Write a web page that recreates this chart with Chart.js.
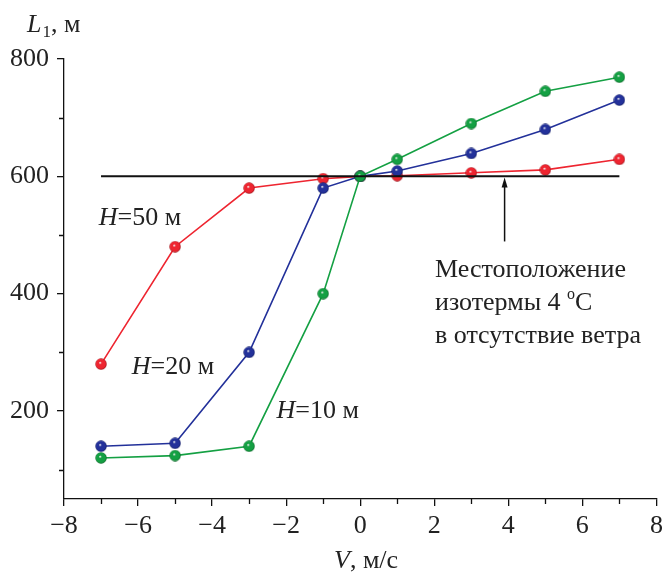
<!DOCTYPE html>
<html lang="ru">
<head>
<meta charset="UTF-8" />
<title>L1 от V</title>
<style>
  html, body { margin: 0; padding: 0; background: #fff; }
  #wrap { width: 664px; height: 573px; }
</style>
</head>
<body>
<div id="wrap"><canvas id="chart" width="664" height="573"></canvas></div>
<script src="https://cdn.jsdelivr.net/npm/chart.js"></script>
<script>
// данные
const windSpeed = [-7, -5, -3, -1, 0, 1, 3, 5, 7];
const h50 = [280, 480, 580, 596, 600, 601, 606, 611, 629];
const h20 = [140, 145, 300, 580, 600, 609, 639, 680, 730];
const h10 = [120, 124, 140, 400, 600, 629, 690, 745, 769];
const isothermX = [-7, 7];
const isothermY = [600, 600];
const xTicks = [-8, -6, -4, -2, 0, 2, 4, 6, 8];
const yTicks = [200, 400, 600, 800];
const xMinor = [-7, -5, -3, -1, 1, 3, 5, 7];
const yMinor = [100, 300, 500, 700];

const SERIF = '"Liberation Serif", "DejaVu Serif", serif';
const FS = 26;

// шарики-маркеры
function ball(color, dark) {
  const c = document.createElement('canvas');
  const s = 12;
  c.width = s; c.height = s;
  const g = c.getContext('2d');
  const grad = g.createRadialGradient(s * 0.42, s * 0.38, 0.3, s / 2, s / 2, s / 2);
  grad.addColorStop(0, '#f4f4f4');
  grad.addColorStop(0.22, color);
  grad.addColorStop(0.75, color);
  grad.addColorStop(1, dark);
  g.fillStyle = grad;
  g.beginPath();
  g.arc(s / 2, s / 2, s / 2 - 0.3, 0, Math.PI * 2);
  g.fill();
  return c;
}

const toPts = (xs, ys) => xs.map((x, i) => ({ x, y: ys[i] }));

const decor = {
  id: 'decor',
  afterDraw(chart) {
    const { ctx, scales: { x, y } } = chart;
    ctx.save();
    ctx.strokeStyle = '#111';
    ctx.lineWidth = 1.3;
    // малые деления
    ctx.beginPath();
    xMinor.forEach(v => {
      const px = Math.round(x.getPixelForValue(v)) + 0.5;
      ctx.moveTo(px, y.bottom); ctx.lineTo(px, y.bottom + 5);
    });
    yMinor.forEach(v => {
      const py = Math.round(y.getPixelForValue(v)) + 0.5;
      ctx.moveTo(x.left, py); ctx.lineTo(x.left - 5, py);
    });
    ctx.stroke();

    // стрелка
    const ax = x.getPixelForValue(3.9);
    const ay0 = y.getPixelForValue(489);
    const ay1 = y.getPixelForValue(598);
    ctx.lineWidth = 1.5;
    ctx.beginPath();
    ctx.moveTo(ax, ay0); ctx.lineTo(ax, ay1 + 6);
    ctx.stroke();
    ctx.fillStyle = '#111';
    ctx.beginPath();
    ctx.moveTo(ax, ay1); ctx.lineTo(ax - 3, ay1 + 10); ctx.lineTo(ax + 3, ay1 + 10);
    ctx.closePath(); ctx.fill();

    ctx.fillStyle = '#222';
    ctx.textBaseline = 'middle';
    ctx.textAlign = 'left';

    function hLabel(vx, vy, rest) {
      let px = x.getPixelForValue(vx);
      const py = y.getPixelForValue(vy);
      ctx.font = 'italic ' + FS + 'px ' + SERIF;
      ctx.fillText('H', px, py);
      px += ctx.measureText('H').width;
      ctx.font = FS + 'px ' + SERIF;
      ctx.fillText(rest, px, py);
    }
    hLabel(-7.06, 529, '=50 м');
    hLabel(-6.17, 275, '=20 м');
    hLabel(-2.26, 200, '=10 м');

    ctx.font = FS + 'px ' + SERIF;
    const tx = x.getPixelForValue(2.02);
    ctx.fillText('Местоположение', tx, y.getPixelForValue(440));
    const l2y = y.getPixelForValue(384);
    ctx.fillText('изотермы 4 ', tx, l2y);
    let w = ctx.measureText('изотермы 4 ').width;
    ctx.font = '16px ' + SERIF;
    ctx.fillText('o', tx + w, l2y - 8);
    w += ctx.measureText('o').width;
    ctx.font = FS + 'px ' + SERIF;
    ctx.fillText('C', tx + w, l2y);
    ctx.fillText('в отсутствие ветра', tx, y.getPixelForValue(328));

    // подписи осей
    ctx.textBaseline = 'alphabetic';
    ctx.font = 'italic ' + FS + 'px ' + SERIF;
    ctx.fillText('L', 27, 32);
    let lx = 27 + ctx.measureText('L').width + 1;
    ctx.font = '17px ' + SERIF;
    ctx.fillText('1', lx, 37);
    lx += ctx.measureText('1').width;
    ctx.font = FS + 'px ' + SERIF;
    ctx.fillText(', м', lx, 32);

    ctx.font = 'italic ' + FS + 'px ' + SERIF;
    ctx.fillText('V', 334, 568);
    const vx = 334 + ctx.measureText('V').width;
    ctx.font = FS + 'px ' + SERIF;
    ctx.fillText(', м/с', vx, 568);
    ctx.restore();
  }
};

const series = (data, color, dark) => ({
  data: toPts(windSpeed, data),
  borderColor: color,
  borderWidth: 1.6,
  pointStyle: ball(color, dark),
  pointRadius: 6,
  pointHoverRadius: 6,
  tension: 0
});

new Chart(document.getElementById('chart'), {
  type: 'line',
  data: {
    datasets: [
      {
        data: toPts(isothermX, isothermY),
        borderColor: '#111',
        borderWidth: 2,
        pointRadius: 0
      },
      series(h10, '#14a043', '#0a5a22'),
      series(h20, '#23319a', '#101a5a'),
      series(h50, '#ee2530', '#8a0d12')
    ]
  },
  plugins: [decor],
  options: {
    responsive: false,
    animation: false,
    events: [],
    layout: { padding: { top: 59, right: 0, left: 0, bottom: 0 } },
    plugins: { legend: { display: false }, tooltip: { enabled: false } },
    scales: {
      x: {
        type: 'linear',
        min: -8, max: 8,
        afterBuildTicks: s => { s.ticks = xTicks.map(v => ({ value: v })); },
        afterFit: s => { s.height = 74; s.paddingRight = 5; s.paddingLeft = 0; },
        border: { color: '#111', width: 1.3 },
        grid: { drawOnChartArea: false, color: '#111', tickLength: 7, lineWidth: 1.3 },
        ticks: {
          color: '#222',
          font: { family: SERIF, size: FS },
          padding: 5,
          maxRotation: 0,
          autoSkip: false,
          callback: v => (v < 0 ? '\u2212' + Math.abs(v) : String(v))
        }
      },
      y: {
        type: 'linear',
        min: 50, max: 800,
        afterBuildTicks: s => { s.ticks = yTicks.map(v => ({ value: v })); },
        afterFit: s => { s.width = 64; },
        border: { color: '#111', width: 1.3 },
        grid: { drawOnChartArea: false, color: '#111', tickLength: 7, lineWidth: 1.3 },
        ticks: {
          color: '#222',
          font: { family: SERIF, size: FS },
          padding: 8
        }
      }
    }
  }
});
</script>
</body>
</html>
